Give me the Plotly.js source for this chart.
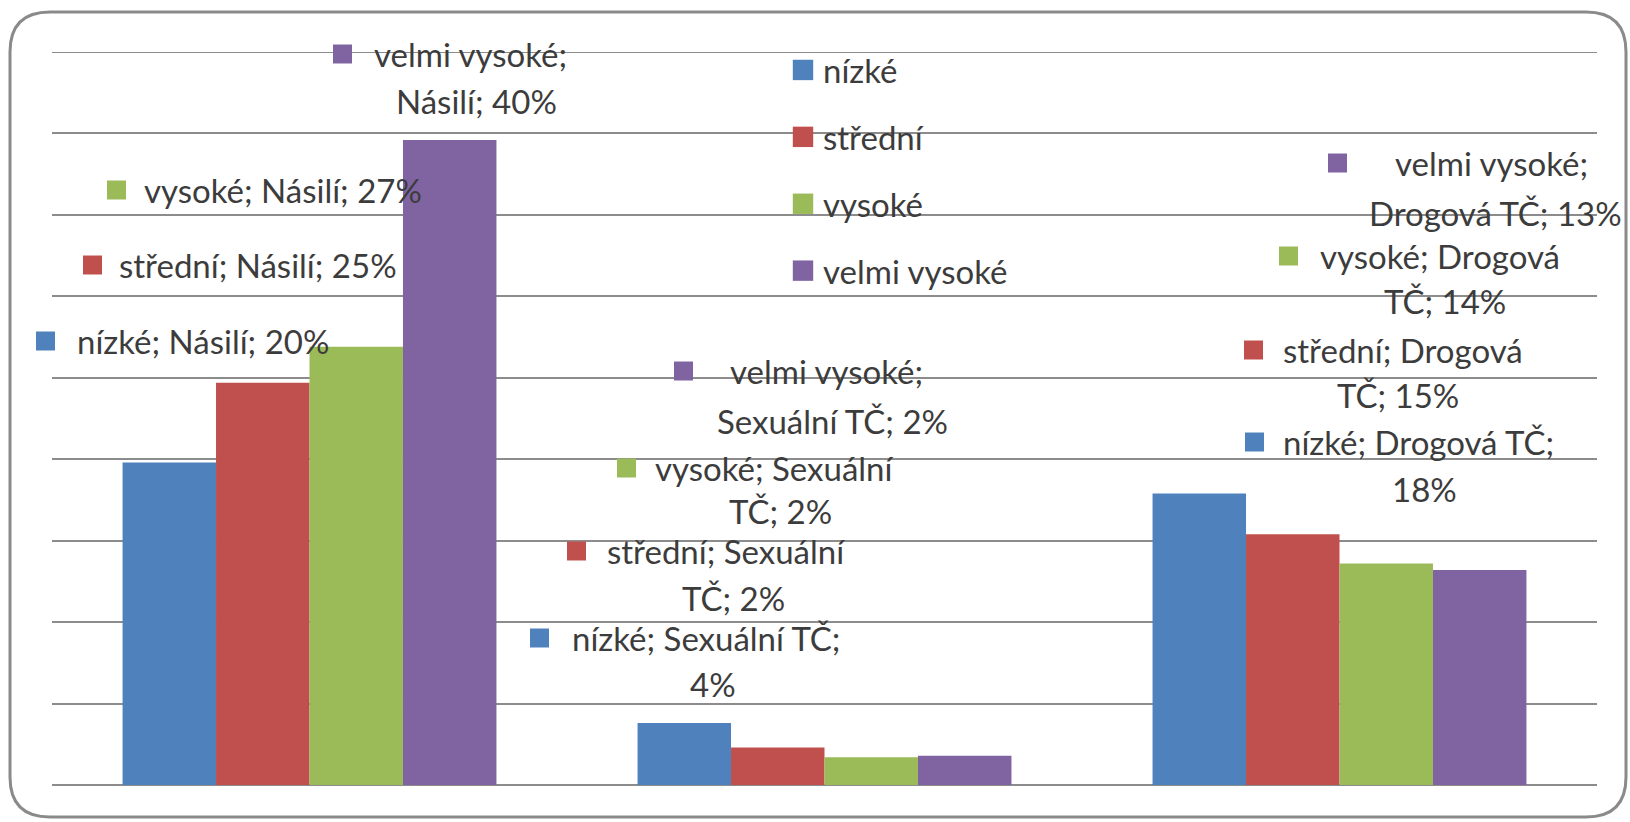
<!DOCTYPE html>
<html>
<head>
<meta charset="utf-8">
<script src="https://cdn.plot.ly/plotly-3.0.1.min.js"></script>
<style>
  html, body { margin: 0; padding: 0; background: #ffffff; }
  #chart { width: 1630px; height: 822px; }
</style>
</head>
<body>
<div id="chart"></div>
<script>
// ---- data ----
const categories = ['Násilí', 'Sexuální TČ', 'Drogová TČ'];
const seriesNames = ['nízké', 'střední', 'vysoké', 'velmi vysoké'];
const nizke = [19.8, 3.8, 17.9];
const stredni = [24.7, 2.3, 15.4];
const vysoke = [26.9, 1.7, 13.6];
const velmiVysoke = [39.6, 1.8, 13.2];
const seriesValues = [nizke, stredni, vysoke, velmiVysoke];
const seriesColors = ['#4F81BD', '#C0504D', '#9BBB59', '#8064A2'];
const yMax = 45;
const yStep = 5;

// ---- layout helpers (pixel -> paper) ----
const W = 1630, H = 822;
const PL = 52, PR = 1597, PT = 52, PB = 785;
const px = X => (X - PL) / (PR - PL);
const py = Y => (PB - Y) / (PB - PT);

// data-label placement (manually placed labels, as in the original)
const labelPlacement = {
  '0-0': {sq: 36,   t1: 75,   y1: 341},
  '1-0': {sq: 83,   t1: 117,  y1: 265},
  '2-0': {sq: 107,  t1: 142,  y1: 190},
  '3-0': {sq: 333,  t1: 372,  y1: 54,  c2: 476,  y2: 101, k: 2},
  '0-1': {sq: 530,  t1: 570,  y1: 638, c2: 713,  y2: 684, k: 3},
  '1-1': {sq: 567,  t1: 605,  y1: 551, c2: 733,  y2: 598, k: 2},
  '2-1': {sq: 617,  t1: 653,  y1: 468, c2: 780,  y2: 511, k: 2},
  '3-1': {sq: 674,  t1: 728,  y1: 371, c2: 832,  y2: 421, k: 2},
  '0-2': {sq: 1245, t1: 1281, y1: 442, c2: 1424, y2: 489, k: 3},
  '1-2': {sq: 1244, t1: 1281, y1: 350, c2: 1398, y2: 395, k: 2},
  '2-2': {sq: 1279, t1: 1318, y1: 256, c2: 1445, y2: 301, k: 2},
  '3-2': {sq: 1328, t1: 1393, y1: 163, c2: 1495, y2: 213, k: 2}
};

const FONT = 'Lato, "Open Sans", sans-serif';
const TEXT_COLOR = '#3c3c3c';
const FS = 33;
const SQ = 19;
const GRID = '#8c8c8c';

const traces = seriesNames.map((name, i) => ({
  type: 'bar',
  name: name,
  x: categories,
  y: seriesValues[i],
  marker: {color: seriesColors[i], line: {width: 0}},
  legendgroup: 'g' + i,
  hoverinfo: 'skip'
}));

const annotations = [];
const shapes = [];

seriesNames.forEach((s, i) => {
  categories.forEach((c, j) => {
    const p = labelPlacement[i + '-' + j];
    const full = s + '; ' + c + '; ' + Math.round(seriesValues[i][j]) + '%';
    const words = full.split(' ');
    const k = p.k || words.length;
    const line1 = words.slice(0, k).join(' ');
    const line2 = words.slice(k).join(' ');
    shapes.push({
      type: 'rect', xref: 'paper', yref: 'paper',
      x0: px(p.sq), x1: px(p.sq + SQ),
      y0: py(p.y1 + SQ / 2), y1: py(p.y1 - SQ / 2),
      fillcolor: seriesColors[i], line: {width: 0}, layer: 'above'
    });
    annotations.push({
      xref: 'paper', yref: 'paper', x: px(p.t1), y: py(p.y1),
      xanchor: 'left', yanchor: 'middle', showarrow: false,
      text: line1, font: {family: FONT, size: FS, color: TEXT_COLOR}
    });
    if (line2) {
      annotations.push({
        xref: 'paper', yref: 'paper', x: px(p.c2), y: py(p.y2),
        xanchor: 'center', yanchor: 'middle', showarrow: false,
        text: line2, font: {family: FONT, size: FS, color: TEXT_COLOR}
      });
    }
  });
});

// top gridline (at the end of the axis range, which Plotly does not draw itself)
shapes.push({type: 'line', xref: 'paper', yref: 'y', x0: 0, x1: 1, y0: yMax, y1: yMax,
  line: {color: GRID, width: 2}, layer: 'below'});

// rounded chart border
(function () {
  const x0 = 10, y0 = 12, x1 = 1626, y1 = 817, r = 40;
  const P = (X, Y) => px(X) + ',' + py(Y);
  const path = 'M' + P(x0 + r, y0) + ' L' + P(x1 - r, y0) +
    ' Q' + P(x1, y0) + ' ' + P(x1, y0 + r) +
    ' L' + P(x1, y1 - r) + ' Q' + P(x1, y1) + ' ' + P(x1 - r, y1) +
    ' L' + P(x0 + r, y1) + ' Q' + P(x0, y1) + ' ' + P(x0, y1 - r) +
    ' L' + P(x0, y0 + r) + ' Q' + P(x0, y0) + ' ' + P(x0 + r, y0) + ' Z';
  shapes.push({type: 'path', xref: 'paper', yref: 'paper', path: path,
    line: {color: '#8a8a8a', width: 3}, layer: 'below'});
})();

const layout = {
  width: W, height: H,
  margin: {l: PL, r: W - PR, t: PT, b: H - PB, pad: 0},
  paper_bgcolor: '#ffffff', plot_bgcolor: '#ffffff',
  barmode: 'group', bargap: 0.274, bargroupgap: 0,
  showlegend: true,
  legend: {
    x: px(783), y: py(42), xanchor: 'left', yanchor: 'top',
    bgcolor: 'rgba(0,0,0,0)', borderwidth: 0,
    font: {family: FONT, size: FS, color: TEXT_COLOR},
    tracegroupgap: 21, itemclick: false, itemdoubleclick: false
  },
  xaxis: {showticklabels: false, ticks: '', showgrid: false, zeroline: false, showline: false,
          fixedrange: true},
  yaxis: {range: [0, yMax], dtick: yStep, tick0: 0, showticklabels: false, ticks: '',
          showgrid: true, gridcolor: GRID, gridwidth: 2,
          zeroline: true, zerolinecolor: GRID, zerolinewidth: 2,
          showline: false, fixedrange: true},
  annotations: annotations,
  shapes: shapes,
  font: {family: FONT, color: TEXT_COLOR}
};

Plotly.newPlot('chart', traces, layout, {displayModeBar: false, staticPlot: true}).then(() => {
  document.querySelectorAll('.legend .legendpoints path').forEach(p => {
    const t = p.getAttribute('transform') || '';
    p.setAttribute('transform', t + ' scale(1.7)');
  });
});
</script>
</body>
</html>
